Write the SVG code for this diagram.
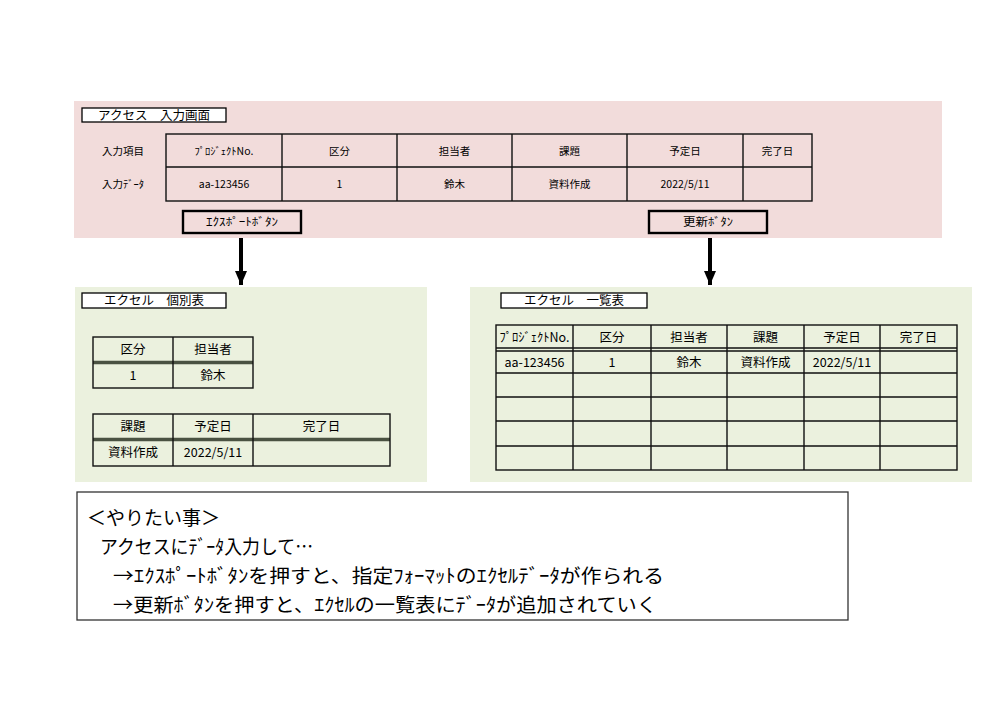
<svg xmlns="http://www.w3.org/2000/svg" width="999" height="706" viewBox="0 0 999 706">
<style>
text{font-family:"Noto Sans CJK JP","Noto Sans",sans-serif;fill:#000}
.c{text-anchor:middle}
.t1{font-size:10.5px}
.t2{font-size:12.5px}
.tt{font-size:12.5px}
.big{font-size:19px}
.g{fill:none;stroke:#111;stroke-width:1.4}
.btn{fill:#f2dcdb;stroke:#000;stroke-width:2.4}
.ttl{fill:#fff;stroke:#000;stroke-width:1.3}
.dbl{stroke:#4a5242;stroke-width:3.5}
</style>
<defs>
<marker id="ah" markerWidth="14" markerHeight="12" refX="14" refY="6" orient="auto" markerUnits="userSpaceOnUse" viewBox="0 0 14 12">
<polygon points="0,0 14,6 0,12" fill="#000"/>
</marker>
</defs>

<g id="access">
<rect x="74" y="101" width="868" height="137" fill="#f2dcdb"/>
<rect class="ttl" x="82" y="108" width="144" height="14"/>
<text class="tt c" x="154" y="120">アクセス　入力画面</text>
<text class="t1" x="102" y="155">入力項目</text>
<text class="t1" x="102" y="188">入力ﾃﾞｰﾀ</text>
<rect class="g" x="166" y="134" width="646" height="67"/>
<path class="g" d="M166 167H812M282 134V201M397 134V201M512 134V201M627 134V201M743 134V201"/>
<g class="t1 c">
<text x="224" y="155">ﾌﾟﾛｼﾞｪｸﾄNo.</text>
<text x="339.5" y="155">区分</text>
<text x="454.5" y="155">担当者</text>
<text x="569.5" y="155">課題</text>
<text x="685" y="155">予定日</text>
<text x="777.5" y="155">完了日</text>
<text x="224" y="188">aa-123456</text>
<text x="339.5" y="188">1</text>
<text x="454.5" y="188">鈴木</text>
<text x="569.5" y="188">資料作成</text>
<text x="685" y="188">2022/5/11</text>
</g>
</g>

<g id="export-button">
<rect class="btn" x="183" y="211" width="118" height="22"/>
<text class="c" font-size="11.5" x="242" y="226" textLength="72" lengthAdjust="spacingAndGlyphs">ｴｸｽﾎﾟｰﾄﾎﾞﾀﾝ</text>
</g>
<g id="update-button">
<rect class="btn" x="649" y="211" width="118" height="22"/>
<text class="c" font-size="11.5" x="708" y="226" textLength="50" lengthAdjust="spacingAndGlyphs">更新ﾎﾞﾀﾝ</text>
</g>

<g id="excel-individual">
<rect x="75" y="287" width="352" height="195" fill="#ebf1de"/>
<rect class="ttl" x="82" y="293" width="144" height="15"/>
<text class="tt c" x="154" y="305">エクセル　個別表</text>
<line class="dbl" x1="93" y1="362.5" x2="253" y2="362.5"/>
<rect class="g" x="93" y="337" width="160" height="51"/>
<path class="g" d="M173 337V388"/>
<g class="t2 c">
<text x="133" y="354">区分</text>
<text x="213" y="354">担当者</text>
<text x="133" y="380">1</text>
<text x="213" y="380">鈴木</text>
</g>
<line class="dbl" x1="93" y1="439.5" x2="390" y2="439.5"/>
<rect class="g" x="93" y="414" width="297" height="52"/>
<path class="g" d="M173 414V466M253 414V466"/>
<g class="t2 c">
<text x="133" y="431">課題</text>
<text x="213" y="431">予定日</text>
<text x="321.5" y="431">完了日</text>
<text x="133" y="457">資料作成</text>
<text x="213" y="457">2022/5/11</text>
</g>
</g>

<g id="excel-list">
<rect x="470" y="287" width="502" height="195" fill="#ebf1de"/>
<rect class="ttl" x="501" y="293" width="146" height="15"/>
<text class="tt c" x="574" y="305">エクセル　一覧表</text>
<rect class="g" x="496" y="325" width="461" height="145"/>
<path class="g" d="M496 348H957M496 351H957M496 373H957M496 397H957M496 421H957M496 446H957M573 325V470M651 325V470M727 325V470M804 325V470M880 325V470"/>
<g class="t2 c">
<text x="534.5" y="342">ﾌﾟﾛｼﾞｪｸﾄNo.</text>
<text x="612" y="342">区分</text>
<text x="689" y="342">担当者</text>
<text x="765.5" y="342">課題</text>
<text x="842" y="342">予定日</text>
<text x="918.5" y="342">完了日</text>
<text x="534.5" y="367">aa-123456</text>
<text x="612" y="367">1</text>
<text x="689" y="367">鈴木</text>
<text x="765.5" y="367">資料作成</text>
<text x="842" y="367">2022/5/11</text>
</g>
</g>

<g id="connectors">
<line x1="241" y1="238" x2="241" y2="285" stroke="#000" stroke-width="4" marker-end="url(#ah)"/>
<line x1="710" y1="238" x2="710" y2="285" stroke="#000" stroke-width="4" marker-end="url(#ah)"/>
</g>

<g id="notes">
<rect x="77" y="492" width="771" height="128" fill="#fff" stroke="#333" stroke-width="1.3"/>
<text class="big" x="87" y="525">＜やりたい事＞</text>
<text class="big" x="100" y="554" textLength="213" lengthAdjust="spacingAndGlyphs">アクセスにﾃﾞｰﾀ入力して…</text>
<text class="big" x="113" y="583" textLength="551" lengthAdjust="spacingAndGlyphs">→ｴｸｽﾎﾟｰﾄﾎﾞﾀﾝを押すと、指定ﾌｫｰﾏｯﾄのｴｸｾﾙﾃﾞｰﾀが作られる</text>
<text class="big" x="113" y="612" textLength="544" lengthAdjust="spacingAndGlyphs">→更新ﾎﾞﾀﾝを押すと、ｴｸｾﾙの一覧表にﾃﾞｰﾀが追加されていく</text>
</g>
</svg>
